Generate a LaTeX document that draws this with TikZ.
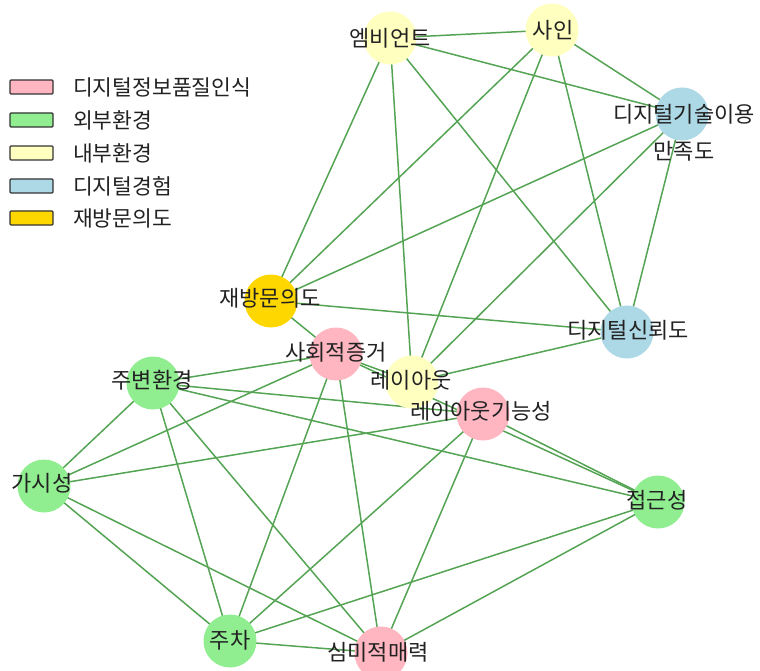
\documentclass[tikz,border=0pt]{standalone}
\usepackage{fontspec}
\newfontfamily\kr{Noto Sans CJK KR}
\usetikzlibrary{backgrounds}
\definecolor{pinkc}{HTML}{FFB6C1}
\definecolor{greenc}{HTML}{90EE90}
\definecolor{yellowc}{HTML}{FFFFC0}
\definecolor{bluec}{HTML}{ADD8E6}
\definecolor{goldc}{HTML}{FFD700}
\definecolor{edgegreen}{RGB}{84,164,84}
\definecolor{txt}{HTML}{222222}
\begin{document}
\begin{tikzpicture}[x=1pt,y=-1pt,
  vnode/.style={circle,minimum size=53pt,inner sep=0pt,draw=none},
  lbl/.style={font=\kr\fontsize{22}{37}\selectfont,text=txt,inner sep=0pt},
  lgtext/.style={font=\kr\fontsize{21.5}{24}\selectfont,text=txt,inner sep=0pt,anchor=west},
  link/.style={draw=edgegreen,line width=1.5pt},
  lgbox/.style={draw=black!80,line width=1.1pt,rounded corners=1pt,minimum width=43pt,minimum height=14pt,inner sep=0pt}]
\useasboundingbox (0,0) rectangle (760,671);

% nodes (circles)
\node[vnode,fill=yellowc] (amb) at (390,38) {};
\node[vnode,fill=yellowc] (sain) at (552,30) {};
\node[vnode,fill=bluec] (dts) at (682,114) {};
\node[vnode,fill=bluec] (dtr) at (627,332) {};
\node[vnode,fill=goldc] (rev) at (271,301) {};
\node[vnode,fill=pinkc] (soc) at (336,354) {};
\node[vnode,fill=yellowc] (lay) at (412,382) {};
\node[vnode,fill=pinkc] (lf) at (483,414) {};
\node[vnode,fill=greenc] (env) at (153,383) {};
\node[vnode,fill=greenc] (vis) at (44,486) {};
\node[vnode,fill=greenc] (acc) at (658,502) {};
\node[vnode,fill=greenc] (park) at (230,641) {};
\node[vnode,fill=pinkc] (aes) at (381,653) {};

% edges
\begin{scope}[on background layer]
\foreach \a/\b in {amb/sain,amb/dts,sain/dts,amb/rev,amb/lay,amb/dtr,
  sain/rev,sain/lay,sain/dtr,dts/rev,dts/lay,dts/dtr,rev/dtr,rev/soc,
  lay/dtr,soc/lay,soc/acc,lf/acc,env/soc,env/lf,env/acc,env/vis,env/park,
  env/aes,vis/soc,vis/lf,vis/park,vis/aes,soc/park,soc/aes,lf/park,lf/aes,
  acc/park,acc/aes,park/aes}
  \draw[link] (\a.center) -- (\b.center);
\end{scope}

% labels
\node[lbl] (t-amb) at (390,38) {엠비언트};
\node[lbl] (t-sain) at (553,30) {사인};
\node[lbl,align=center] (t-dts) at (684,133) {디지털기술이용\\만족도};
\node[lbl] (t-dtr) at (628,330) {디지털신뢰도};
\node[lbl] (t-rev) at (270,298) {재방문의도};
\node[lbl] (t-soc) at (336,352) {사회적증거};
\node[lbl] (t-lay) at (411,380) {레이아웃};
\node[lbl] (t-lf) at (481,411) {레이아웃기능성};
\node[lbl] (t-env) at (152,380) {주변환경};
\node[lbl] (t-vis) at (42,483) {가시성};
\node[lbl] (t-acc) at (657,500) {접근성};
\node[lbl] (t-park) at (230,640) {주차};
\node[lbl] (t-aes) at (378,652) {심미적매력};

% legend
\node[lgbox,fill=pinkc] (b1) at (31.5,87) {};
\node[lgbox,fill=greenc] (b2) at (31.5,120) {};
\node[lgbox,fill=yellowc] (b3) at (31.5,153) {};
\node[lgbox,fill=bluec] (b4) at (31.5,186) {};
\node[lgbox,fill=goldc] (b5) at (31.5,218) {};
\node[lgtext] (g1) at (73,87) {디지털정보품질인식};
\node[lgtext] (g2) at (73,120) {외부환경};
\node[lgtext] (g3) at (73,153) {내부환경};
\node[lgtext] (g4) at (73,186) {디지털경험};
\node[lgtext] (g5) at (73,218) {재방문의도};
\end{tikzpicture}
\end{document}
